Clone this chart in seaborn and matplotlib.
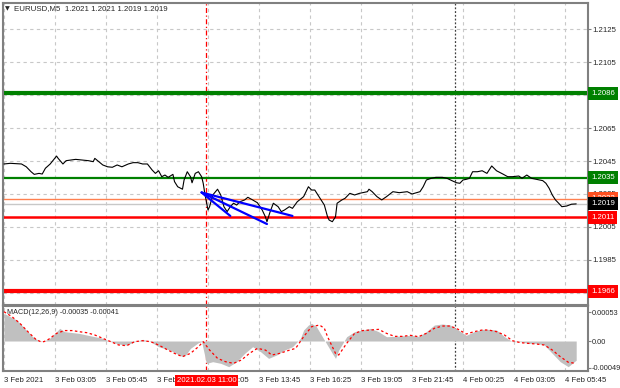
import numpy as np
import pandas as pd
import matplotlib
matplotlib.use('Agg')
import matplotlib.pyplot as plt
import matplotlib.transforms as mtransforms
import seaborn as sns

sns.set_style('white')
plt.rcParams['font.family'] = ['Liberation Sans', 'DejaVu Sans']

# ---- price line (M5 close), bar index from 3 Feb 00:25 ----
price_bar = [0, 4, 11, 14, 17, 19, 22, 24, 26, 29, 33, 34, 37, 39, 42, 45, 49, 53, 56, 57,
             59, 62, 65, 68, 71, 74, 78, 81, 84, 87, 90, 93, 95, 97, 99, 101, 103, 106, 107, 109,
             112, 113, 115, 117, 118, 120, 122, 124, 125, 126, 128, 129, 131, 134, 136, 138, 140, 142, 144, 146,
             148, 151, 153, 156, 159, 162, 164, 165, 167, 169, 172, 174, 176, 179, 181, 184, 188, 191, 193, 195,
             197, 199, 201, 203, 204, 206, 208, 209, 212, 214, 217, 220, 223, 228, 229, 231, 234, 237, 240, 244,
             248, 253, 256, 261, 263, 265, 268, 271, 275, 278, 281, 284, 286, 288, 290, 292, 294, 297, 300, 303,
             306, 309, 313, 316, 319, 323, 325, 328, 331, 334, 338, 340, 342, 344, 346, 348, 350, 353, 356, 359]
price_close = [1.20432, 1.20436, 1.20432, 1.20415, 1.20385, 1.20369, 1.20375, 1.20371, 1.20406, 1.20432,
               1.20480, 1.20466, 1.20432, 1.20452, 1.20456, 1.20460, 1.20456, 1.20452, 1.20446, 1.20466,
               1.20450, 1.20426, 1.20415, 1.20412, 1.20426, 1.20415, 1.20432, 1.20440, 1.20440, 1.20432,
               1.20432, 1.20395, 1.20375, 1.20391, 1.20355, 1.20365, 1.20351, 1.20369, 1.20325, 1.20294,
               1.20279, 1.20335, 1.20385, 1.20355, 1.20318, 1.20375, 1.20385, 1.20355, 1.20315, 1.20254,
               1.20153, 1.20173, 1.20244, 1.20279, 1.20244, 1.20173, 1.20143, 1.20173, 1.20194, 1.20183,
               1.20203, 1.20214, 1.20230, 1.20214, 1.20197, 1.20153, 1.20112, 1.20082, 1.20143, 1.20194,
               1.20173, 1.20143, 1.20153, 1.20173, 1.20163, 1.20203, 1.20234, 1.20294, 1.20274, 1.20274,
               1.20244, 1.20214, 1.20183, 1.20112, 1.20092, 1.20082, 1.20112, 1.20194, 1.20214, 1.20224,
               1.20254, 1.20244, 1.20254, 1.20264, 1.20279, 1.20264, 1.20234, 1.20214, 1.20234, 1.20264,
               1.20258, 1.20264, 1.20250, 1.20264, 1.20294, 1.20335, 1.20345, 1.20351, 1.20351, 1.20345,
               1.20331, 1.20318, 1.20315, 1.20335, 1.20339, 1.20345, 1.20385, 1.20385, 1.20391, 1.20375,
               1.20420, 1.20391, 1.20371, 1.20355, 1.20355, 1.20359, 1.20345, 1.20365, 1.20345, 1.20339,
               1.20331, 1.20315, 1.20285, 1.20244, 1.20214, 1.20194, 1.20173, 1.20177, 1.20188, 1.20190]

# ---- MACD(12,26,9), values in 1e-5 ----
macd_bar = [0, 8, 13, 18, 23, 28, 33, 35, 38, 47, 57, 62, 67, 72, 77, 82, 87, 92, 97, 104,
            112, 114, 117, 122, 124, 127, 131, 136, 141, 146, 151, 156, 161, 166, 171, 176, 181, 186, 188, 191,
            193, 196, 201, 206, 208, 210, 215, 220, 225, 230, 235, 240, 245, 255, 260, 265, 270, 275, 280, 285,
            290, 295, 300, 304, 309, 314, 319, 324, 329, 334, 339, 344, 349, 354, 359]
macd_main = [50.6, 38.4, 23.2, 7.9, -1.2, 3.1, 17.1, 23.2, 17.1, 14.0, 7.9, 4.9, -1.2, -5.5, -7.3, -1.2, 3.1, -1.2, -10.4, -16.5,
             -28.6, -25.6, -13.4, -3.0, -1.2, -40.8, -37.8, -40.8, -46.9, -37.8, -22.6, -10.4, -19.5, -31.7, -25.6, -16.5, -10.4, 4.9, 20.1, 29.2,
             32.3, 26.2, 1.8, -22.6, -31.7, -16.5, 7.9, 17.1, 20.1, 23.2, 17.1, 7.9, 8.5, 10.4, 8.5, 17.1, 29.2, 31.1, 29.2, 20.1,
             10.4, 17.1, 21.3, 21.3, 20.1, 7.9, -1.2, -1.2, -4.3, -4.3, -7.3, -22.6, -37.8, -46.9, -35.0]
signal_bar = [0, 5, 10, 15, 20, 23, 25, 28, 33, 38, 43, 47, 52, 57, 62, 67, 72, 77, 82, 87,
              92, 97, 102, 107, 112, 117, 122, 125, 129, 134, 139, 144, 149, 154, 159, 164, 168, 173, 178, 183,
              188, 193, 198, 201, 203, 208, 210, 215, 220, 225, 230, 235, 240, 245, 250, 255, 260, 265, 270, 275,
              280, 285, 290, 295, 300, 304, 309, 314, 319, 324, 329, 334, 339, 344, 349, 354, 359]
signal_val = [53.6, 44.5, 32.3, 17.1, 3.1, -1.2, -1.2, 3.1, 14.0, 19.1, 19.1, 17.1, 15.2, 11.0, 4.9, -1.2, -7.3, -8.5, -1.2, 0.6,
              -1.2, -7.3, -15.2, -22.6, -28.6, -22.6, -10.4, -1.2, -16.5, -31.7, -37.8, -40.8, -34.7, -22.6, -13.4, -16.5, -25.6, -22.6, -17.7, -13.4,
              7.9, 26.2, 29.2, 23.2, 7.9, -22.6, -25.6, -4.3, 14.0, 19.1, 20.1, 21.3, 14.0, 8.5, 8.5, 10.4, 7.9, 14.0, 23.2, 27.4,
              27.4, 21.3, 12.8, 17.1, 20.1, 20.1, 17.1, 11.0, 0.6, -3.0, -4.3, -5.5, -7.3, -16.5, -28.6, -38.8, -41.0]

# ---- x axis ----
tick_bars = [0, 32, 64, 96, 128, 160, 192, 224, 256, 288, 320, 352]
tick_labels = ['3 Feb 2021', '3 Feb 03:05', '3 Feb 05:45', '3 Feb 08:25', '3 Feb 11:05', '3 Feb 13:45',
               '3 Feb 16:25', '3 Feb 19:05', '3 Feb 21:45', '4 Feb 00:25', '4 Feb 03:05', '4 Feb 05:45']
cursor_bar = 127
cursor_label = '2021.02.03 11:00'
day_sep_bar = 283

# ---- price levels ----
price_ticks = [1.1965, 1.1985, 1.2005, 1.2025, 1.2045, 1.2065, 1.2085, 1.2105, 1.2125]
levels = [1.2086, 1.2035, 1.2022, 1.2019, 1.2011, 1.1966]
level_colors = ['#008000', '#008000', '#FF8050', '#C8C8C8', '#FF0000', '#FF0000']
level_box = ['#008000', '#008000', '#FF5020', '#000000', '#FF0000', '#FF0000']
level_lw = [3.0, 1.6, 1.0, 1.0, 1.8, 3.0]

# trend lines drawn by hand (bar, price)
trend_start = (124, 1.20259)
trend_ends = [(142, 1.20117), (165, 1.20068), (181, 1.20117)]

title = 'EURUSD,M5  1.2021 1.2021 1.2019 1.2019'
macd_title = 'MACD(12,26,9) -0.00035 -0.00041'
macd_ticks = [-0.00049, 0.0, 0.00053]
macd_tick_labels = ['-0.00049', '0.00', '0.00053']

W, H = 620, 388
fig = plt.figure(figsize=(W / 100, H / 100), dpi=100)


def px_axes(x0, y0, x1, y1):
    return fig.add_axes([x0 / W, 1 - y1 / H, (x1 - x0) / W, (y1 - y0) / H])


ax = px_axes(3, 3, 588, 305)
ax2 = px_axes(3, 306, 588, 371)

xlim = (-0.6, 366.4)
grid_kw = dict(color='#C8C8C8', lw=0.8, linestyle=(0, (3, 3)))
tick_fs = 5.6

for a in (ax, ax2):
    a.set_xlim(*xlim)
    for s in a.spines.values():
        s.set_color('#808080')
        s.set_linewidth(1.5)
    a.set_xticks(tick_bars)
    a.grid(True, axis='x', **grid_kw)
    a.yaxis.tick_right()
    a.tick_params(axis='y', direction='out', length=2, width=0.8, color='#808080',
                  labelsize=tick_fs, pad=0.8)
    a.axvline(cursor_bar, color='#FF0000', lw=0.9, linestyle=(0, (4, 2, 1, 2)), zorder=1)
    a.axvline(day_sep_bar, color='#404040', lw=0.9, linestyle=(0, (1.5, 1.5)), zorder=1)

ax.tick_params(axis='x', length=0, labelbottom=False)
ax2.tick_params(axis='x', direction='out', length=3, width=0.8, color='#808080', labelsize=tick_fs, pad=1)
ax2.set_xticklabels(tick_labels)
for lbl in ax2.get_xticklabels():
    lbl.set_ha('left')

# main panel
ax.set_ylim(1.19577, 1.21408)
ax.set_yticks(price_ticks)
ax.set_yticklabels([f'{v:.4f}' for v in price_ticks])
ax.grid(True, axis='y', **grid_kw)

for lv, c, lw in zip(levels, level_colors, level_lw):
    ax.axhline(lv, color=c, lw=lw, zorder=2)

df = pd.DataFrame({'bar': price_bar, 'close': price_close})
sns.lineplot(data=df, x='bar', y='close', ax=ax, color='black', lw=0.8, zorder=4)
ax.set_xlabel('')
ax.set_ylabel('')

for bx, py in trend_ends:
    ax.plot([trend_start[0], bx], [trend_start[1], py], color='#0000FF', lw=1.6, zorder=5)

ytr = ax.get_yaxis_transform()
for lv, bc in zip(levels, level_box):
    ax.text(1.0055, lv, f'{lv:.4f}', transform=ytr, ha='left', va='center', fontsize=tick_fs,
            color='white', clip_on=False, zorder=6,
            bbox=dict(boxstyle='square,pad=0.38', fc=bc, ec='none'))

ax.text(0.003, 0.982, '\u25BC', transform=ax.transAxes, fontsize=4.5, ha='left', va='center',
        family=['DejaVu Sans'])
ax.text(0.018, 0.982, title, transform=ax.transAxes, fontsize=5.7, ha='left', va='center')

# MACD panel
ax2.set_ylim(-0.000548, 0.00064)
mdf = pd.DataFrame({'bar': macd_bar, 'main': np.array(macd_main) * 1e-5})
sdf = pd.DataFrame({'bar': signal_bar, 'signal': np.array(signal_val) * 1e-5})
ax2.fill_between(mdf['bar'], 0, mdf['main'], color='#C0C0C0', lw=0, zorder=2)
sns.lineplot(data=sdf, x='bar', y='signal', ax=ax2, color='#FF0000', lw=0.9,
             linestyle=(0, (2, 2)), zorder=3)
ax2.set_xlabel('')
ax2.set_ylabel('')
ax2.set_yticks(macd_ticks)
ax2.set_yticklabels(macd_tick_labels)
ax2.tick_params(axis='y', labelsize=5.3)
ax2.text(0.006, 0.9, macd_title, transform=ax2.transAxes, fontsize=5.2, ha='left', va='center')

xtr = mtransforms.blended_transform_factory(ax2.transData, ax2.transAxes)
ax2.text(cursor_bar, -0.14, cursor_label, transform=xtr, ha='center', va='center', fontsize=tick_fs,
         color='white', clip_on=False, zorder=6,
         bbox=dict(boxstyle='square,pad=0.25', fc='#FF0000', ec='none'))

fig.savefig('out.png', dpi=100, facecolor='white')
print('Done!')
